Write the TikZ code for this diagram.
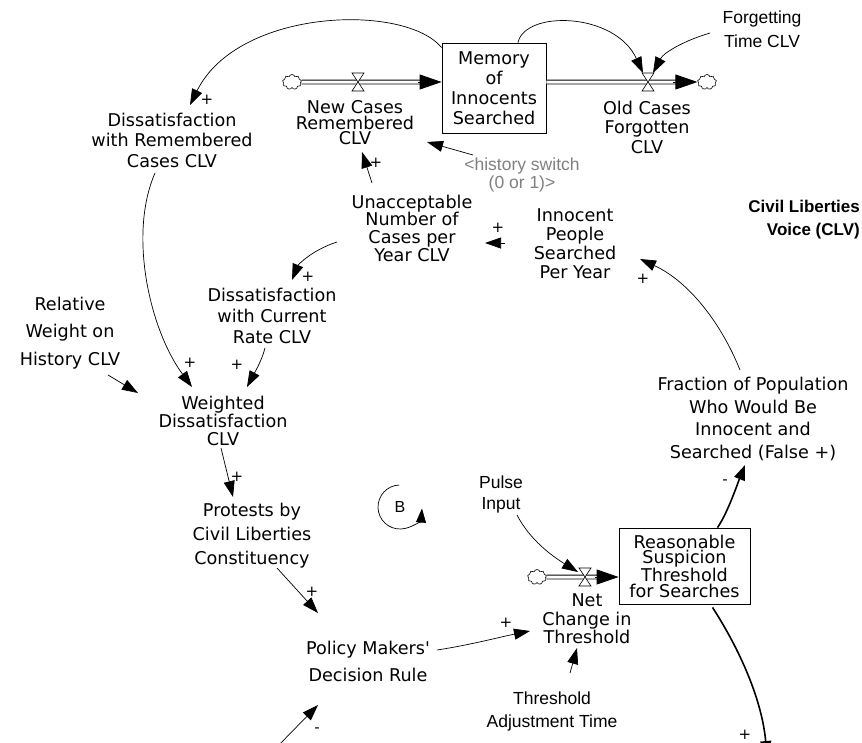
\documentclass[tikz,border=0pt]{standalone}
\usepackage{fontspec}
\setmainfont{DejaVu Sans}[Ligatures=TeXOff]
\newfontfamily\arialf{Liberation Sans}
\usetikzlibrary{arrows.meta,shapes.symbols,calc}
\begin{document}
\begin{tikzpicture}[x=1pt,y=-1pt,
  var/.style={align=center,inner sep=1pt,font=\fontsize{17.6}{#1}\selectfont},
  var/.default=20,
  avar/.style={align=center,inner sep=1pt,font=\arialf\fontsize{17.5}{#1}\selectfont},
  avar/.default=22,
  stockbox/.style={draw,line width=0.8pt},
  link/.style={line width=0.7pt,-{Triangle[length=16pt,width=11pt]}},
  thicklink/.style={line width=1.6pt,-{Triangle[length=15pt,width=11pt]}},
  pol/.style={font=\fontsize{15}{15}\selectfont,inner sep=0pt},
  pipe/.style={double,double distance=3pt,line width=0.8pt},
  pipehead/.style={line width=0.8pt,-{Triangle[length=22pt,width=15pt]}},
  cloudy/.style={cloud,cloud puffs=9,cloud ignores aspect,draw,line width=0.6pt,minimum width=19pt,minimum height=15pt,inner sep=0pt,fill=white},
  valve/.pic={\draw[fill=white,line width=0.6pt] (-6,-9) -- (6,-9) -- (-6,9) -- (6,9) -- cycle;},
]
\fill[white] (0,0) rectangle (862,742);
\useasboundingbox (0,0) rectangle (862,742);

% ---------- stocks, clouds, flows ----------
\node[stockbox,var=20,minimum width=104pt,minimum height=90pt] (mem) at (494,88) {Memory\\of\\Innocents\\Searched};
\node[cloudy] (c1) at (292,82) {};
\node[cloudy] (c2) at (707,82) {};
\coordinate (v1) at (358,82);
\coordinate (v2) at (648,82);
\draw[pipe] (c1.east) -- ($(mem.west |- c1)+(-20,0)$);
\draw[pipehead] ($(mem.west |- c1)+(-24,0)$) -- (mem.west |- c1);
\draw[pipe] (mem.east |- c2) -- ($(c2.west)+(-20,0)$);
\draw[pipehead] ($(c2.west)+(-24,0)$) -- (c2.west);
\pic at (v1) {valve};
\pic at (v2) {valve};

\node[stockbox,var=15.5,minimum width=131pt,minimum height=76pt] (rst) at (684.5,566) {Reasonable\\Suspicion\\Threshold\\for Searches};
\node[cloudy] (c3) at (537,577) {};
\coordinate (v3) at (585,577);
\draw[pipe] (c3.east) -- ($(rst.west |- c3)+(-20,0)$);
\draw[pipehead] ($(rst.west |- c3)+(-24,0)$) -- (rst.west |- c3);
\pic at (v3) {valve};

% ---------- variables ----------
\node[var=15.5] (ncr) at (355,123) {New Cases\\Remembered\\CLV};
\node[var=19.5] (ocf) at (647,127) {Old Cases\\Forgotten\\CLV};
\node[avar=24] (ftc) at (762,29) {Forgetting\\Time CLV};
\node[var=20.5] (dwr) at (172,140) {Dissatisfaction\\with Remembered\\Cases CLV};
\node[avar=14.5,text=gray] (hsw) at (522,175) {<history switch\\(0 or 1)>};
\node[var=17.7] (una) at (412,228) {Unacceptable\\Number of\\Cases per\\Year CLV};
\node[var=19] (ipy) at (575,244) {Innocent\\People\\Searched\\Per Year};
\node[align=right,anchor=east,inner sep=1pt,font=\arialf\bfseries\fontsize{17}{23}\selectfont] (clv) at (861,220) {Civil Liberties\\Voice (CLV)};
\node[var=21] (dcr) at (272,316) {Dissatisfaction\\with Current\\Rate CLV};
\node[var=27.5] (rwh) at (70,333) {Relative\\Weight on\\History CLV};
\node[var=18] (wd) at (223,421) {Weighted\\Dissatisfaction\\CLV};
\node[var=22.7] (fpi) at (753,419) {Fraction of Population\\Who Would Be\\Innocent and\\Searched (False +)};
\node[var=24] (pcl) at (252,536) {Protests by\\Civil Liberties\\Constituency};
\node[avar=21] (pulse) at (501,494) {Pulse\\Input};
\node[var=18.5] (nct) at (587,619) {Net\\Change in\\Threshold};
\node[var=27] (pmd) at (368,661) {Policy Makers'\\Decision Rule};
\node[avar=23] (tat) at (552,711) {Threshold\\Adjustment Time};
\node[font=\arialf\fontsize{16}{16}\selectfont,inner sep=0pt] (B) at (400,507) {B};
\coordinate (botL) at (274,750);
\coordinate (botR) at (767,756);

% ---------- links ----------
\draw[link] ($(mem.north west)+(0,5)$) .. controls (405,3) and (238,8) .. ($(dwr)+(18,-35)$);
\draw[link] ($(mem.north)+(24,0)$) .. controls (525,10) and (615,12) .. ($(v2)+(-5,-9)$);
\draw[link] ($(ftc)+(-52,4)$) .. controls (686,40) and (664,52) .. ($(v2)+(5,-9)$);
\draw[link] ($(una)+(-40,-45)$) -- ($(ncr)+(7,29)$);
\draw[link] ($(hsw)+(-49,-20)$) -- ($(ncr)+(72,19)$);
\draw[link] ($(ipy)+(-70,-1)$) -- ($(una)+(73,15)$);
\draw[link] ($(una)+(-75,14)$) .. controls (312,250) and (298,265) .. ($(dcr)+(20,-36)$);
\draw[link] ($(dwr)+(-17,33)$) .. controls (128,235) and (150,330) .. ($(wd)+(-31,-34)$);
\draw[link] ($(dcr)+(-7,32)$) .. controls (262,360) and (255,372) .. ($(wd)+(24,-34)$);
\draw[link] ($(rwh)+(38,42)$) -- ($(wd)+(-85,-28)$);
\draw[link] ($(wd)+(-2,27)$) -- ($(pcl)+(-19,-39)$);
\draw[link] ($(pcl)+(25,32)$) -- ($(pmd)+(-50,-48)$);
\draw[link] (botL) -- ($(pmd)+(-50,44)$);
\draw[link] ($(pmd)+(69,-11)$) .. controls (470,645) and (500,637) .. ($(nct)+(-57,12)$);
\draw[link] ($(tat)+(18,-38)$) -- ($(nct)+(-10,29)$);
\draw[link] ($(pulse)+(16,21)$) .. controls (530,540) and (552,556) .. ($(v3)+(-7,-5)$);
\draw[link] ($(fpi)+(-13,-49)$) .. controls (722,325) and (690,282) .. ($(ipy)+(65,15)$);
\draw[thicklink] ($(rst.north)+(33,0)$) .. controls (728,512) and (737,485) .. ($(fpi)+(-8,46)$);
\draw[thicklink] ($(rst.south)+(28,3)$) .. controls (740,650) and (762,700) .. (botR);

% loop symbol
\draw[line width=0.7pt,-{Triangle[length=14pt,width=10pt]}] (B.center) ++(92:22pt) arc[start angle=92,end angle=356,radius=22pt];

% ---------- polarities ----------
\node[pol] (p1) at (207,100) {+};
\node[pol] (p2) at (376,163) {+};
\node[pol] (p3) at (498,228) {+};
\node[pol] (p4) at (308,277) {+};
\node[pol] (p5) at (643,279) {+};
\node[pol] (p6) at (190,363) {+};
\node[pol] (p7) at (237,365) {+};
\node[pol] (p8) at (237,477) {+};
\node[pol] (p9) at (312,592) {+};
\node[pol] (p10) at (506,623) {+};
\node[pol] (p11) at (317,730) {-};
\node[pol] (p12) at (725,482) {-};
\node[pol] (p13) at (745,735) {+};
\end{tikzpicture}
\end{document}
